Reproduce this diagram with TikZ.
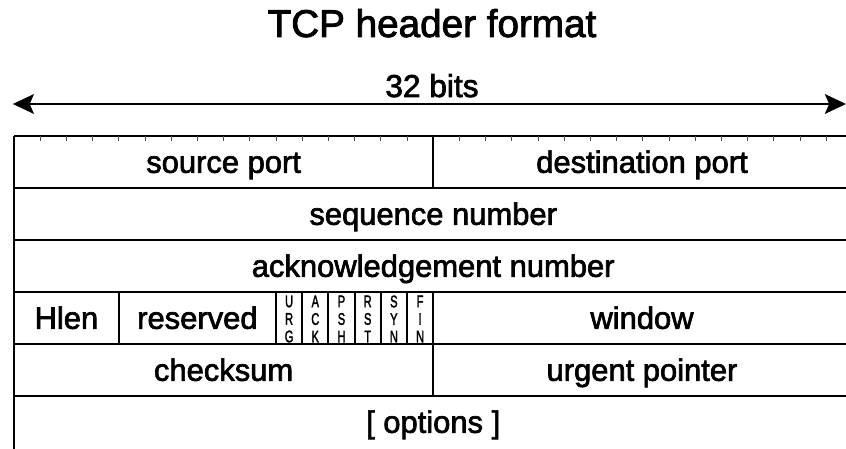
\documentclass[tikz,border=0pt]{standalone}
\usepackage{fontspec}
\setmainfont{Liberation Sans}
\newfontfamily\labelfont{Liberation Sans}[FakeBold=2.2]
\usetikzlibrary{arrows.meta}
\tikzset{
	field/.style={rectangle,inner sep=0pt,anchor=base,font=\labelfont\fontsize{22}{26}\selectfont},
	flag/.style={rectangle,inner sep=0pt,align=center,xscale=0.66,font=\labelfont\fontsize{12}{12.5}\selectfont},
	frame/.style={line width=1.4pt},
}
\begin{document}
\begin{tikzpicture}[]
		\useasboundingbox (0,0) rectangle (21.15,11.225);
		
		%title
		\node[rectangle,anchor=base,font=\labelfont\fontsize{27.5}{30}\selectfont](title) at (10.8,10.3) {TCP header format};
		%width arrow
		\coordinate (wleft) at (0.32,8.625);
		\coordinate (wright) at (21.15,8.625);
		\draw[line width=1.4pt,{Stealth[length=15pt,width=14pt,inset=3pt]}-{Stealth[length=15pt,width=14pt,inset=3pt]}] (wleft) -- (wright);
		\node[rectangle,anchor=base,font=\labelfont\fontsize{22.5}{26}\selectfont](bits) at (10.8,8.8) {32 bits};
		
		%rows
		\draw[frame] (0.35,7.825) -- (21.31,7.825);
		\draw[frame] (0.35,6.525) -- (21.31,6.525);
		\draw[frame] (0.35,5.225) -- (21.31,5.225);
		\draw[frame] (0.35,3.925) -- (21.31,3.925);
		\draw[frame] (0.35,2.625) -- (21.31,2.625);
		\draw[frame] (0.35,1.325) -- (21.31,1.325);
		\draw[frame] (0.35,7.825) -- (0.35,0);
		%bit ticks
		\foreach \b in {1,...,31}
			\draw[line width=0.7pt,color=black!70] (0.35+0.655*\b,7.825) -- (0.35+0.655*\b,7.69);
		%columns
		\draw[frame] (10.83,7.825) -- (10.83,6.525);
		\draw[frame] (10.83,3.925) -- (10.83,1.325);
		\draw[frame] (2.97,3.925) -- (2.97,2.625);
		\foreach \b in {10,...,15}
			\draw[frame] (0.35+0.655*\b,3.925) -- (0.35+0.655*\b,2.625);
		
		%labels (baseline 0.92 below the row top)
		\node[field](srcport) at (5.59,6.905) {source port};
		\node[field](dstport) at (16.05,6.905) {destination port};
		\node[field](seqnum) at (10.83,5.605) {sequence number};
		\node[field](acknum) at (10.83,4.305) {acknowledgement number};
		\node[field](hlen) at (1.66,3.005) {Hlen};
		\node[field](reserved) at (4.935,3.005) {reserved};
		\node[field](window) at (16.05,3.005) {window};
		\node[field](checksum) at (5.59,1.705) {checksum};
		\node[field](urgptr) at (16.05,1.705) {urgent pointer};
		\node[field](options) at (10.83,0.405) {[ options ]};
		%flags
		\foreach \b/\f in {10/U\\R\\G,11/A\\C\\K,12/P\\S\\H,13/R\\S\\T,14/S\\Y\\N,15/F\\I\\N}
			\node[flag](flag-\b) at (0.35+0.655*\b+0.3275,3.25) {\f};
		\end{tikzpicture}
\end{document}
